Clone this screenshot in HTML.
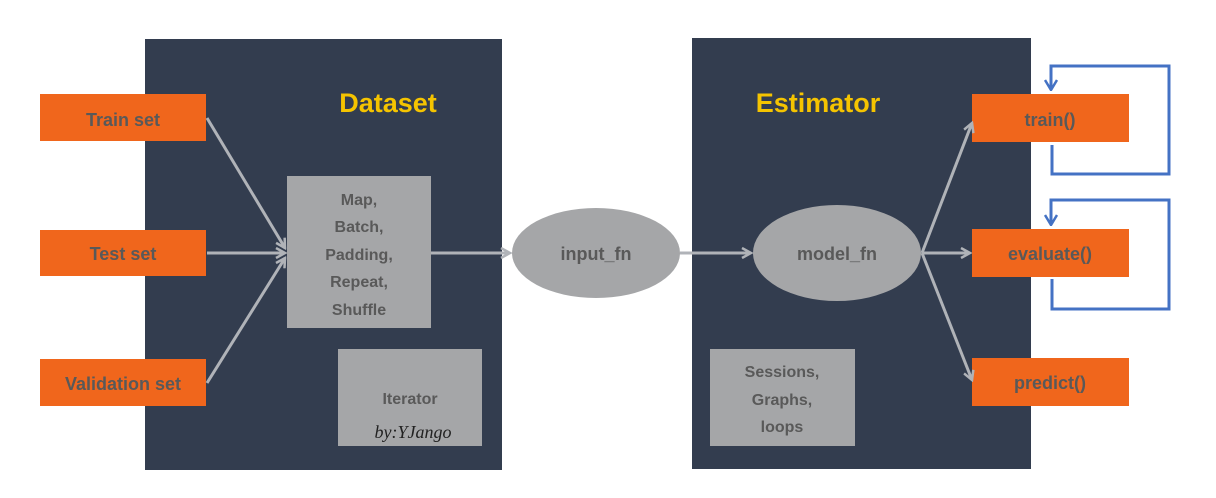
<!DOCTYPE html>
<html><head><style>
body{margin:0;background:#fff;width:1216px;height:493px;overflow:hidden;font-family:"Liberation Sans",sans-serif}
</style></head><body>
<svg width="1216" height="493" xmlns="http://www.w3.org/2000/svg" font-family="Liberation Sans, sans-serif" font-weight="bold">
<defs>
<marker id="a" markerWidth="12" markerHeight="12" refX="10" refY="6" orient="auto" markerUnits="userSpaceOnUse"><path d="M1,1 L10,6 L1,11" fill="none" stroke="#b0b3b8" stroke-width="2.5"/></marker>
<marker id="b" markerWidth="12" markerHeight="14" refX="11" refY="7" orient="auto" markerUnits="userSpaceOnUse"><path d="M1,1 L11,7 L1,13" fill="none" stroke="#4472c4" stroke-width="2.5"/></marker>
</defs>
<rect x="145" y="39" width="357" height="431" fill="#333d4f"/>
<rect x="692" y="38" width="339" height="431" fill="#333d4f"/>
<text x="388" y="112" font-size="27" fill="#f5c400" text-anchor="middle">Dataset</text>
<text x="818" y="112" font-size="27" fill="#f5c400" text-anchor="middle">Estimator</text>
<g fill="#f0661c">
<rect x="40" y="94" width="166" height="47"/><rect x="40" y="230" width="166" height="46"/><rect x="40" y="359" width="166" height="47"/>
<rect x="972" y="94" width="157" height="48"/><rect x="972" y="229" width="157" height="48"/><rect x="972" y="358" width="157" height="48"/>
</g>
<g fill="#595959" font-size="18" text-anchor="middle">
<text x="123" y="126">Train set</text><text x="123" y="260">Test set</text><text x="123" y="390">Validation set</text>
<text x="1050" y="126">train()</text><text x="1050" y="260">evaluate()</text><text x="1050" y="389">predict()</text>
</g>
<g fill="#a5a6a8">
<rect x="287" y="176" width="144" height="152"/>
<rect x="338" y="349" width="144" height="97"/>
<rect x="710" y="349" width="145" height="97"/>
<ellipse cx="596" cy="253" rx="84" ry="45"/>
<ellipse cx="837" cy="253" rx="84" ry="48"/>
</g>
<g fill="#595959" font-size="16" text-anchor="middle">
<text x="359" y="205">Map,</text><text x="359" y="232">Batch,</text><text x="359" y="260">Padding,</text><text x="359" y="287">Repeat,</text><text x="359" y="315">Shuffle</text>
<text x="410" y="404">Iterator</text>
<text x="782" y="377">Sessions,</text><text x="782" y="405">Graphs,</text><text x="782" y="432">loops</text>
<text x="596" y="260" font-size="18">input_fn</text>
<text x="837" y="260" font-size="18">model_fn</text>
</g>
<text x="413" y="438" font-family="Liberation Serif, serif" font-style="italic" font-weight="normal" font-size="18" fill="#222" text-anchor="middle">by:YJango</text>
<g stroke="#b0b3b8" stroke-width="3" fill="none" marker-end="url(#a)">
<line x1="207" y1="118" x2="285" y2="248"/>
<line x1="207" y1="253" x2="285" y2="253"/>
<line x1="207" y1="383" x2="285" y2="258"/>
<line x1="431" y1="253" x2="510" y2="253"/>
<line x1="680" y1="253" x2="751" y2="253"/>
<line x1="922" y1="253" x2="972" y2="123"/>
<line x1="922" y1="253" x2="970" y2="253"/>
<line x1="922" y1="253" x2="972" y2="380"/>
</g>
<g stroke="#4472c4" stroke-width="3" fill="none" marker-end="url(#b)">
<polyline points="1052,145 1052,174 1169,174 1169,66 1051,66 1051,90"/>
<polyline points="1052,279 1052,309 1169,309 1169,200 1051,200 1051,225"/>
</g>
</svg>
</body></html>
